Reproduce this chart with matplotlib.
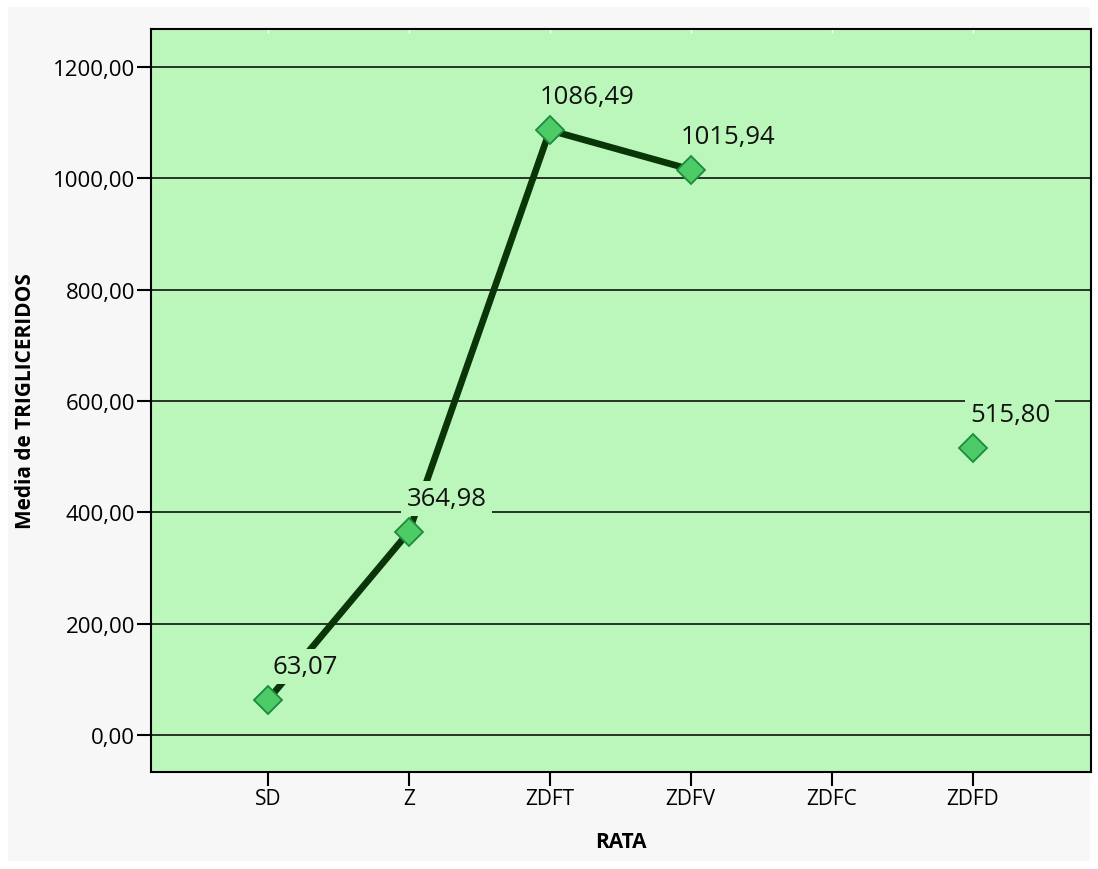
import numpy as np
import matplotlib.pyplot as plt
from matplotlib.patches import Rectangle

categories = ['SD', 'Z', 'ZDFT', 'ZDFV', 'ZDFC', 'ZDFD']
medias = [63.07, 364.98, 1086.49, 1015.94, np.nan, 515.80]
yticks = [0, 200, 400, 600, 800, 1000, 1200]

plt.rcParams['font.family'] = ['Open Sans', 'DejaVu Sans']

fig = plt.figure(figsize=(10.98, 8.70), dpi=100, facecolor='white')
# light grey panel behind the chart
fig.patches.append(Rectangle((8 / 1098, 8 / 870), 1082 / 1098, 854 / 870,
                             transform=fig.transFigure, facecolor='#f7f7f7',
                             edgecolor='none', zorder=-10))

ax = fig.add_axes([151 / 1098, 1 - 773 / 870, 940 / 1098, 743 / 870])
bg = '#bbf7bb'
ax.set_facecolor(bg)

x = np.arange(len(categories))
ax.plot(x, medias, color='#0a3508', linewidth=4.8, solid_capstyle='butt', zorder=3)
ax.plot(x, medias, linestyle='none', marker='D', markersize=14,
        markerfacecolor='#4ccb66', markeredgecolor='#1f8a3c', markeredgewidth=1.3, zorder=5)

for xi, v in zip(x, medias):
    if np.isnan(v):
        continue
    ax.annotate(f'{v:.2f}'.replace('.', ','), (xi, v), xytext=(27, 24),
                textcoords='offset points', ha='center', va='center', fontsize=18.5,
                color='#111111', zorder=4,
                bbox=dict(boxstyle='square,pad=0.2', facecolor=bg, edgecolor='none'))

ax.set_xlim(-0.83, 5.84)
ax.set_ylim(-66.5, 1268.5)
ax.set_yticks(yticks)
ax.set_yticklabels([f'{t:.2f}'.replace('.', ',') for t in yticks], fontsize=16)
ax.set_xticks(x)
ax.set_xticklabels(categories, fontsize=15)
ax.yaxis.grid(True, color='black', linewidth=1.1)
ax.set_axisbelow(True)
ax.tick_params(axis='both', length=10, width=1.5, color='black', direction='out', pad=1.5)

for s in ax.spines.values():
    s.set_linewidth(1.5)

# white ticks on top border
top = ax.secondary_xaxis('top')
top.set_xticks(x)
top.set_xticklabels([])
top.tick_params(axis='x', direction='in', length=3, width=1, color='white')
top.spines['top'].set_visible(False)

ax.set_xlabel('RATA', fontsize=15, fontweight='bold', labelpad=16)
ax.set_ylabel('Media de TRIGLICERIDOS', fontsize=15, fontweight='bold', labelpad=12)

fig.savefig('out.png', dpi=100, facecolor=fig.get_facecolor())
